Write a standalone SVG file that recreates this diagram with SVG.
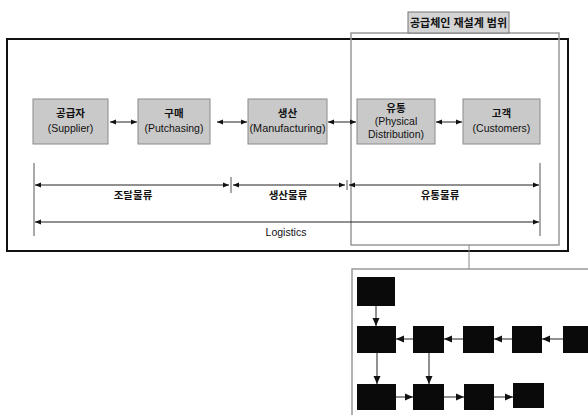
<svg xmlns="http://www.w3.org/2000/svg" width="588" height="415" viewBox="0 0 588 415">
<style>
text{font-family:"Liberation Sans","Noto Sans CJK KR",sans-serif;fill:#111;text-anchor:middle}
.n rect{fill:#c9c9c9;stroke:#8a8a8a;stroke-width:1}
.n text{font-size:10.5px}
.k{font-weight:bold}
.b rect{fill:#0a0a0a}
.ln{stroke:#222;stroke-width:1;fill:none}
.tk{stroke:#555;stroke-width:1}
.dl{font-size:10.5px}
</style>
<defs>
<marker id="ah" viewBox="0 0 6 6" refX="6" refY="3" markerWidth="6" markerHeight="6" orient="auto-start-reverse" markerUnits="userSpaceOnUse"><path d="M0,0.5L6,3L0,5.5z" fill="#111"/></marker>
<marker id="ah2" viewBox="0 0 8 8" refX="8" refY="4" markerWidth="8" markerHeight="8" orient="auto" markerUnits="userSpaceOnUse"><path d="M0,0.5L8,4L0,7.5z" fill="#111"/></marker>
</defs>
<rect width="588" height="415" fill="#fff"/>
<g id="outer"><rect x="7" y="39" width="561" height="212" fill="none" stroke="#111" stroke-width="2"/></g>
<g id="scope"><rect x="351" y="33" width="208" height="212" fill="none" stroke="#999" stroke-width="1.5"/>
<rect x="408" y="12" width="101" height="21" fill="#d4d4d4" stroke="#777" stroke-width="1"/>
<text x="458.5" y="27" font-size="11" class="k">공급체인 재설계 범위</text></g>
<g id="supplier" class="n"><rect x="33" y="99" width="75" height="45"/><text x="70.5" y="117" class="k">공급자</text><text x="70.5" y="132">(Supplier)</text></g>
<g id="purchasing" class="n"><rect x="138" y="99" width="72" height="45"/><text x="174" y="117" class="k">구매</text><text x="174" y="132">(Putchasing)</text></g>
<g id="manufacturing" class="n"><rect x="248" y="99" width="79" height="45"/><text x="287.5" y="117" class="k">생산</text><text x="287.5" y="132" textLength="76" lengthAdjust="spacingAndGlyphs">(Manufacturing)</text></g>
<g id="distribution" class="n"><rect x="357" y="99" width="78" height="45"/><text x="396" y="112" class="k">유통</text><text x="396" y="125">(Physical</text><text x="396" y="138">Distribution)</text></g>
<g id="customers" class="n"><rect x="463" y="99" width="77" height="45"/><text x="501.5" y="117" class="k">고객</text><text x="501.5" y="132">(Customers)</text></g>
<g id="connectors">
<line class="ln" x1="110" y1="122" x2="137" y2="122" marker-start="url(#ah)" marker-end="url(#ah)"/>
<line class="ln" x1="217" y1="122" x2="247" y2="122" marker-start="url(#ah)" marker-end="url(#ah)"/>
<line class="ln" x1="328" y1="122" x2="356" y2="122" marker-start="url(#ah)" marker-end="url(#ah)"/>
<line class="ln" x1="436" y1="122" x2="462" y2="122" marker-start="url(#ah)" marker-end="url(#ah)"/>
<line class="tk" x1="34" y1="163" x2="34" y2="236"/>
<line class="tk" x1="231" y1="177" x2="231" y2="193"/>
<line class="tk" x1="347" y1="180" x2="347" y2="190"/>
<line class="tk" x1="540" y1="163" x2="540" y2="236"/>
<line class="ln" x1="35" y1="185" x2="229" y2="185" marker-start="url(#ah)" marker-end="url(#ah)"/>
<line class="ln" x1="233" y1="185" x2="345" y2="185" marker-start="url(#ah)" marker-end="url(#ah)"/>
<line class="ln" x1="349" y1="185" x2="539" y2="185" marker-start="url(#ah)" marker-end="url(#ah)"/>
<line class="ln" x1="35" y1="222" x2="539" y2="222" marker-start="url(#ah)" marker-end="url(#ah)"/>
<line x1="469" y1="245" x2="469" y2="269" stroke="#888" stroke-width="1"/>
<line class="ln" x1="376" y1="306" x2="376" y2="326" marker-end="url(#ah2)"/>
<line class="ln" x1="413" y1="339" x2="396" y2="339" marker-end="url(#ah2)"/>
<line class="ln" x1="463" y1="339" x2="444" y2="339" marker-end="url(#ah2)"/>
<line class="ln" x1="512" y1="339" x2="494" y2="339" marker-end="url(#ah2)"/>
<line class="ln" x1="563" y1="339" x2="542" y2="339" marker-end="url(#ah2)"/>
<line class="ln" x1="377" y1="353" x2="377" y2="384" marker-end="url(#ah2)"/>
<line class="ln" x1="429" y1="353" x2="429" y2="384" marker-end="url(#ah2)"/>
<line class="ln" x1="396" y1="397" x2="413" y2="397" marker-end="url(#ah2)"/>
<line class="ln" x1="444" y1="397" x2="464" y2="397" marker-end="url(#ah2)"/>
<line class="ln" x1="494" y1="397" x2="513" y2="397" marker-end="url(#ah2)"/>
</g>
<g id="labels">
<text class="dl k" x="133" y="199">조달물류</text>
<text class="dl k" x="288" y="199">생산물류</text>
<text class="dl k" x="440" y="199">유통물류</text>
<text class="dl" x="286" y="236">Logistics</text>
</g>
<g id="panel"><path d="M588,269H352V415" fill="none" stroke="#999" stroke-width="1.5"/></g>
<g id="ba" class="b"><rect x="357" y="277" width="38" height="29"/></g>
<g id="bb" class="b"><rect x="357" y="326" width="39" height="27"/></g>
<g id="bc" class="b"><rect x="413" y="326" width="31" height="27"/></g>
<g id="bd" class="b"><rect x="463" y="326" width="31" height="27"/></g>
<g id="be" class="b"><rect x="512" y="326" width="30" height="27"/></g>
<g id="bf" class="b"><rect x="563" y="326" width="25" height="27"/></g>
<g id="bg" class="b"><rect x="357" y="384" width="39" height="26"/></g>
<g id="bh" class="b"><rect x="413" y="384" width="31" height="26"/></g>
<g id="bi" class="b"><rect x="464" y="384" width="30" height="26"/></g>
<g id="bj" class="b"><rect x="513" y="383" width="31" height="25"/></g>
</svg>
